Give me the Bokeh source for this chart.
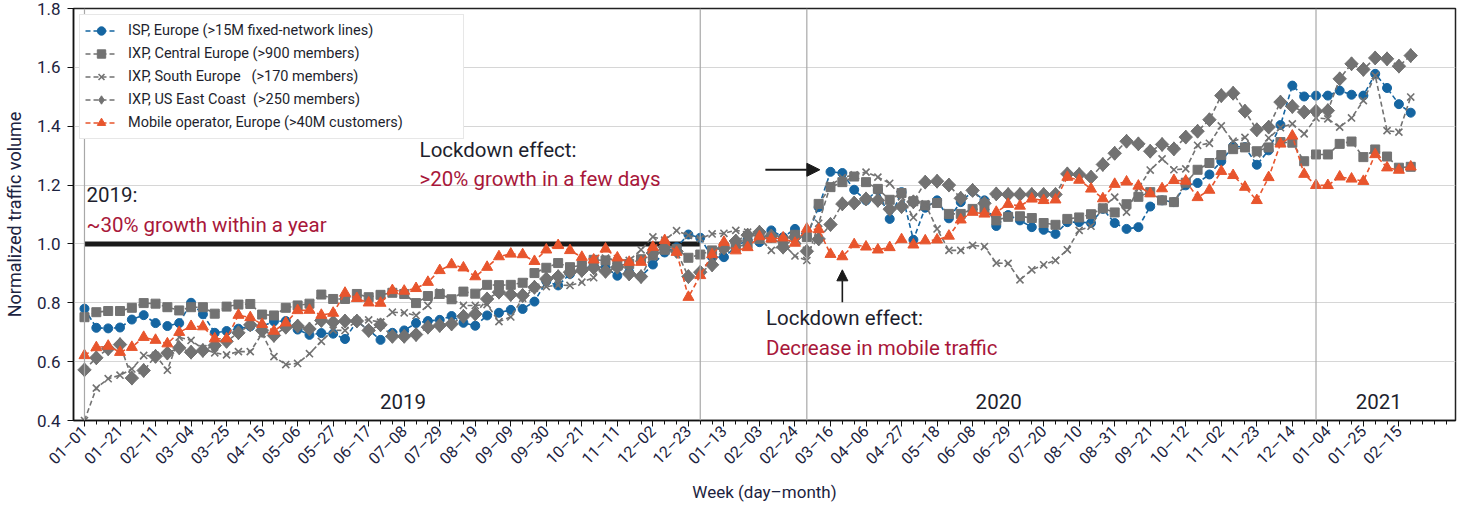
import numpy as np
from bokeh.plotting import figure
from bokeh.models import (Range1d, FixedTicker, Span, Arrow, NormalHead, Legend,
                          LegendItem, ColumnDataSource, Label, PrintfTickFormatter)
from bokeh.embed import file_html
from bokeh.resources import INLINE

# ---------------- data ----------------
tick_labels = ["01–01", "01–21", "02–11", "03–04", "03–25", "04–15", "05–06", "05–27",
               "06–17", "07–08", "07–29", "08–19", "09–09", "09–30", "10–21", "11–11",
               "12–02", "12–23", "01–13", "02–03", "02–24", "03–16", "04–06", "04–27",
               "05–18", "06–08", "06–29", "07–20", "08–10", "08–31", "09–21", "10–12",
               "11–02", "11–23", "12–14", "01–04", "01–25", "02–15"]

isp_europe = [0.780, 0.715, 0.713, 0.716, 0.743, 0.758, 0.731, 0.721, 0.731, 0.800,
              0.761, 0.698, 0.704, 0.712, 0.720, 0.720, 0.737, 0.738, 0.709, 0.691,
              0.697, 0.695, 0.677, 0.737, 0.708, 0.674, 0.698, 0.706, 0.731, 0.738,
              0.742, 0.755, 0.732, 0.722, 0.757, 0.766, 0.776, 0.779, 0.804, 0.873,
              0.859, 0.898, 0.913, 0.927, 0.920, 0.892, 0.904, 0.889, 0.930, 0.971,
              0.989, 1.032, 1.021, 0.955, 0.955, 0.990, 1.015, 1.006, 1.046, 1.023,
              1.051, 1.025, 1.125, 1.245, 1.241, 1.184, 1.148, 1.183, 1.085, 1.176,
              1.014, 1.123, 1.148, 1.087, 1.142, 1.179, 1.148, 1.061, 1.098, 1.080,
              1.057, 1.048, 1.034, 1.074, 1.074, 1.071, 1.119, 1.071, 1.051, 1.057,
              1.127, 1.148, 1.142, 1.199, 1.207, 1.236, 1.281, 1.332, 1.329, 1.269,
              1.318, 1.404, 1.538, 1.501, 1.504, 1.504, 1.521, 1.507, 1.504, 1.578,
              1.530, 1.475, 1.446]

ixp_central = [0.751, 0.768, 0.772, 0.772, 0.783, 0.799, 0.797, 0.785, 0.774, 0.785,
               0.785, 0.763, 0.787, 0.794, 0.796, 0.760, 0.757, 0.783, 0.791, 0.797,
               0.828, 0.813, 0.813, 0.830, 0.819, 0.827, 0.834, 0.830, 0.799, 0.823,
               0.830, 0.812, 0.838, 0.831, 0.861, 0.860, 0.861, 0.868, 0.901, 0.919,
               0.935, 0.921, 0.927, 0.946, 0.944, 0.927, 0.932, 0.948, 0.961, 0.980,
               0.983, 0.953, 0.964, 0.978, 0.989, 0.989, 1.000, 1.017, 1.021, 1.012,
               1.031, 1.023, 1.136, 1.193, 1.210, 1.229, 1.210, 1.187, 1.150, 1.173,
               1.145, 1.131, 1.139, 1.102, 1.102, 1.119, 1.116, 1.080, 1.092, 1.094,
               1.088, 1.071, 1.065, 1.085, 1.090, 1.101, 1.121, 1.107, 1.135, 1.160,
               1.176, 1.148, 1.142, 1.208, 1.252, 1.275, 1.302, 1.322, 1.328, 1.315,
               1.328, 1.346, 1.344, 1.281, 1.304, 1.304, 1.340, 1.348, 1.295, 1.321,
               1.297, 1.259, 1.262]

ixp_south = [0.400, 0.510, 0.542, 0.554, 0.575, 0.621, 0.621, 0.571, 0.683, 0.672,
             0.644, 0.630, 0.623, 0.634, 0.634, 0.695, 0.617, 0.590, 0.594, 0.627,
             0.669, 0.707, 0.706, 0.740, 0.742, 0.734, 0.768, 0.766, 0.757, 0.791,
             0.836, 0.812, 0.791, 0.791, 0.794, 0.736, 0.752, 0.815, 0.850, 0.855,
             0.860, 0.859, 0.870, 0.885, 0.952, 0.944, 0.944, 0.980, 1.024, 1.013,
             1.045, 1.029, 1.018, 1.034, 1.036, 1.046, 1.040, 1.020, 0.978, 1.000,
             0.959, 0.944, 1.070, 1.200, 1.225, 1.235, 1.244, 1.227, 1.206, 1.160,
             1.090, 1.136, 1.051, 0.978, 0.978, 0.995, 0.991, 0.935, 0.934, 0.878,
             0.912, 0.929, 0.944, 0.980, 1.046, 1.060, 1.125, 1.159, 1.108, 1.190,
             1.251, 1.289, 1.252, 1.255, 1.335, 1.342, 1.401, 1.349, 1.362, 1.306,
             1.360, 1.395, 1.408, 1.374, 1.428, 1.425, 1.397, 1.428, 1.487, 1.572,
             1.385, 1.380, 1.499]

ixp_us_east = [0.572, 0.613, 0.644, 0.658, 0.544, 0.570, 0.618, 0.629, 0.647, 0.632,
               0.638, 0.655, 0.669, 0.698, 0.725, 0.706, 0.689, 0.717, 0.721, 0.711,
               0.740, 0.734, 0.738, 0.738, 0.706, 0.725, 0.686, 0.686, 0.692, 0.717,
               0.723, 0.728, 0.754, 0.762, 0.813, 0.836, 0.828, 0.825, 0.853, 0.881,
               0.889, 0.904, 0.910, 0.919, 0.907, 0.921, 0.898, 0.889, 0.969, 0.989,
               0.975, 0.889, 0.904, 0.929, 0.986, 1.010, 1.030, 1.040, 1.027, 0.989,
               1.023, 0.975, 1.017, 1.066, 1.136, 1.139, 1.153, 1.148, 1.118, 1.127,
               1.143, 1.210, 1.213, 1.200, 1.155, 1.182, 1.138, 1.170, 1.168, 1.168,
               1.168, 1.168, 1.168, 1.238, 1.236, 1.227, 1.270, 1.308, 1.349, 1.340,
               1.315, 1.338, 1.323, 1.363, 1.383, 1.422, 1.504, 1.512, 1.451, 1.388,
               1.397, 1.482, 1.467, 1.448, 1.451, 1.453, 1.561, 1.612, 1.593, 1.632,
               1.629, 1.604, 1.640]

mobile_europe = [0.621, 0.648, 0.653, 0.632, 0.649, 0.683, 0.673, 0.661, 0.700, 0.720,
                 0.719, 0.678, 0.678, 0.758, 0.750, 0.727, 0.704, 0.732, 0.774, 0.775,
                 0.758, 0.765, 0.833, 0.815, 0.800, 0.799, 0.842, 0.840, 0.849, 0.870,
                 0.910, 0.930, 0.919, 0.889, 0.921, 0.957, 0.966, 0.964, 0.941, 0.980,
                 0.995, 0.978, 0.955, 0.946, 0.983, 0.953, 0.938, 0.938, 0.989, 1.012,
                 0.972, 0.819, 0.893, 0.964, 1.006, 0.977, 0.988, 1.025, 1.017, 1.021,
                 1.003, 1.051, 1.049, 0.965, 0.957, 0.998, 0.990, 0.980, 0.988, 1.015,
                 0.997, 1.011, 1.014, 1.027, 1.082, 1.108, 1.102, 1.108, 1.135, 1.129,
                 1.153, 1.148, 1.150, 1.227, 1.217, 1.187, 1.154, 1.203, 1.211, 1.197,
                 1.171, 1.188, 1.216, 1.214, 1.158, 1.183, 1.247, 1.233, 1.193, 1.148,
                 1.226, 1.340, 1.367, 1.237, 1.199, 1.199, 1.228, 1.221, 1.213, 1.304,
                 1.259, 1.251, 1.262]

series_names = ["ISP, Europe (>15M fixed-network lines)",
                "IXP, Central Europe (>900 members)",
                "IXP, South Europe   (>170 members)",
                "IXP, US East Coast  (>250 members)",
                "Mobile operator, Europe (>40M customers)"]

weeks = list(range(len(isp_europe)))
year_break_weeks = [0, 52, 61, 104]      # vertical reference lines
trend_2019 = [0, 52, 1.0]               # black line: start week, end week, level

# annotation anchors (week, value)
ann_2019 = (0.17, 1.165, 1.063)
ann_growth = (28.3, 1.318, 1.222)
ann_mobile = (57.55, 0.747, 0.645)
arrow_growth = (57.5, 62.1, 1.252)
arrow_mobile = (64.0, 0.802, 0.912)
year_labels = [("2019", 26.9), ("2020", 77.2), ("2021", 109.3)]

# ---------------- styling ----------------
BLUE = "#1565a1"
GREY = "#727272"
ORANGE = "#e8552d"
RED_TXT = "#a8173a"
DARK = "#1e1f2e"
NAVY = "#1c2340"
FONT = "Roboto"

src = ColumnDataSource(dict(w=weeks, isp=isp_europe, cen=ixp_central, sou=ixp_south,
                            use=ixp_us_east, mob=mobile_europe))

p = figure(width=1457, height=505, output_backend="svg", toolbar_location=None,
           x_range=Range1d(-0.928, 115.78), y_range=Range1d(0.4, 1.8),
           min_border_left=72, min_border_right=2, min_border_top=8, min_border_bottom=85)

p.background_fill_color = "white"
p.border_fill_color = "white"
p.outline_line_color = "#222222"
p.outline_line_width = 1.5

# grid
p.xgrid.grid_line_color = None
p.ygrid.grid_line_color = "#d6d6d6"
p.ygrid.grid_line_width = 1.2
p.ygrid.ticker = FixedTicker(ticks=[0.4, 0.6, 0.8, 1.0, 1.2, 1.4, 1.6, 1.8])

for wk in year_break_weeks:
    p.add_layout(Span(location=wk, dimension="height", line_color="#a8a8a8", line_width=1.2))

# axes
p.yaxis.ticker = FixedTicker(ticks=[0.4, 0.6, 0.8, 1.0, 1.2, 1.4, 1.6, 1.8])
p.yaxis.formatter = PrintfTickFormatter(format="%.1f")
p.xaxis.ticker = FixedTicker(ticks=[3 * i for i in range(len(tick_labels))],
                             minor_ticks=list(range(0, 116)))
p.xaxis.major_label_overrides = {3 * i: lab for i, lab in enumerate(tick_labels)}
p.xaxis.major_label_orientation = np.pi / 4

for ax in (p.xaxis[0], p.yaxis[0]):
    ax.axis_line_color = "#111111"
    ax.axis_line_width = 1.5
    ax.major_tick_line_color = "#111111"
    ax.minor_tick_line_color = "#111111"
    ax.major_tick_in = 0
    ax.major_tick_out = 6
    ax.minor_tick_in = 0
    ax.minor_tick_out = 4
    ax.major_label_text_font = FONT
    ax.major_label_text_color = NAVY
    ax.axis_label_text_font = FONT
    ax.axis_label_text_color = NAVY
    ax.axis_label_text_font_style = "normal"
    ax.axis_label_text_font_size = "17px"

p.yaxis.minor_tick_out = 0
p.yaxis.major_label_text_font_size = "17px"
p.xaxis.major_label_text_font_size = "16px"
p.yaxis.major_label_standoff = 7
p.xaxis.major_label_standoff = 2
p.yaxis.axis_label = "Normalized traffic volume"
p.yaxis.axis_label_text_font_size = "18px"
p.yaxis.axis_label_standoff = 9
p.xaxis.axis_label = "Week (day–month)"
p.xaxis.axis_label_standoff = 4

# 2019 trend line
p.segment(x0=trend_2019[0], y0=trend_2019[2], x1=trend_2019[1], y1=trend_2019[2],
          line_color="#1a1a1a", line_width=5)

# series
dash = "5 3"
specs = [("isp", BLUE, "circle", 9, 0, None),
         ("cen", GREY, "square", 9, 0, None),
         ("sou", GREY, "x", 10, 0, None),
         ("use", GREY, "square", 9.5, np.pi / 4, ("diamond", 14)),
         ("mob", ORANGE, "triangle", 11, 0, None)]
items = []
for (col, color, marker, size, ang, leg_marker), name in zip(specs, series_names):
    r1 = p.line("w", col, source=src, line_color=color, line_width=1.6, line_dash=dash)
    r3 = None
    if leg_marker is not None:
        # diamond drawn underneath the rotated squares; also used as the legend glyph
        r3 = p.scatter("w", col, source=src, marker=leg_marker[0], size=leg_marker[1],
                       fill_color=color, line_color=color)
    r2 = p.scatter("w", col, source=src, marker=marker, size=size, angle=ang,
                   fill_color=color, line_color=color,
                   line_width=1.6 if marker == "x" else 1)
    items.append(LegendItem(label=name, renderers=[r1, r3 if r3 is not None else r2]))

legend = Legend(items=items, location="top_left")
legend.label_text_font = FONT
legend.label_text_font_size = "14.5px"
legend.label_text_color = DARK
legend.glyph_width = 32
legend.glyph_height = 21
legend.label_height = 21
legend.label_width = 330
legend.spacing = 2
legend.padding = 5
legend.margin = 6
legend.label_standoff = 11
legend.border_line_color = "#cfcfcf"
legend.border_line_width = 1.5
legend.background_fill_alpha = 1.0
p.add_layout(legend)

# annotations
def lab(x, y, text, color, size="20.5px", align="left"):
    p.add_layout(Label(x=x, y=y, text=text, text_color=color, text_font=FONT,
                       text_font_size=size, text_baseline="middle", text_align=align))

lab(ann_2019[0], ann_2019[1], "2019:", DARK)
lab(ann_2019[0], ann_2019[2], "~30% growth within a year", RED_TXT)
lab(ann_growth[0], ann_growth[1], "Lockdown effect:", DARK)
lab(ann_growth[0], ann_growth[2], ">20% growth in a few days", RED_TXT)
lab(ann_mobile[0], ann_mobile[1], "Lockdown effect:", DARK)
lab(ann_mobile[0], ann_mobile[2], "Decrease in mobile traffic", RED_TXT)
for txt, wk in year_labels:
    lab(wk, 0.465, txt, DARK, size="20.5px", align="center")

p.add_layout(Arrow(end=NormalHead(size=13, fill_color="#1a1a1a", line_color="#1a1a1a"),
                   x_start=arrow_growth[0], y_start=arrow_growth[2],
                   x_end=arrow_growth[1], y_end=arrow_growth[2],
                   line_color="#1a1a1a", line_width=2.2))
p.add_layout(Arrow(end=NormalHead(size=11, fill_color="#1a1a1a", line_color="#1a1a1a"),
                   x_start=arrow_mobile[0], y_start=arrow_mobile[1],
                   x_end=arrow_mobile[0], y_end=arrow_mobile[2],
                   line_color="#1a1a1a", line_width=1.6))

open("out.html", "w").write(file_html(p, INLINE))
